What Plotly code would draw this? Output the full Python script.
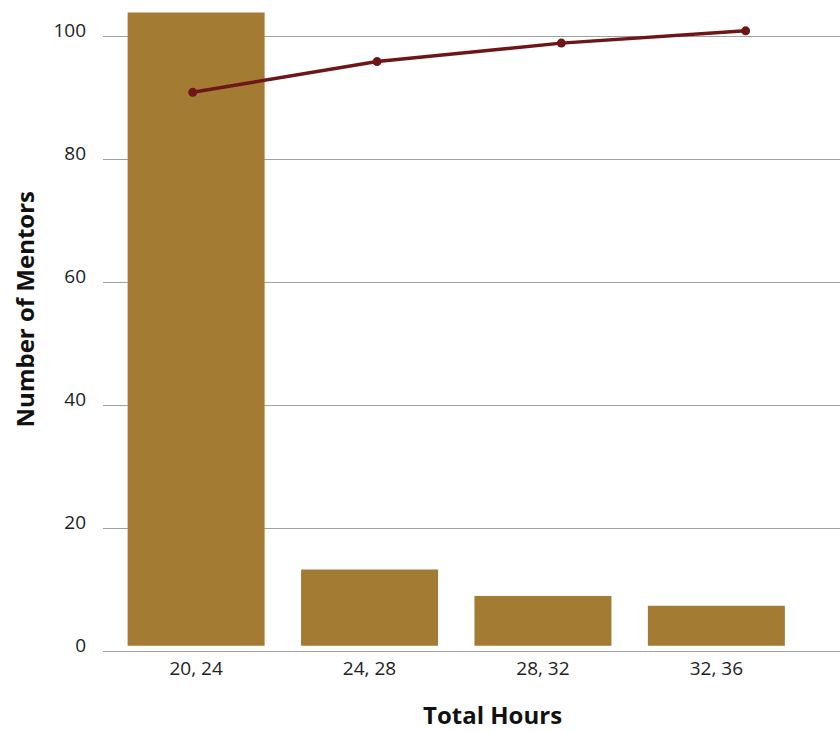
import plotly.graph_objects as go

# Hour bins (tick labels) and the data drawn on them
hour_bins = ["20, 24", "24, 28", "28, 32", "32, 36"]
mentor_counts = [103, 12.4, 8.1, 6.5]
cumulative_pct = [90, 95, 98, 100]
y_ticks = [0, 20, 40, 60, 80, 100]

BAR_COLOR = "#A47B33"
LINE_COLOR = "#6E1518"
GRID_COLOR = "#A0A0A0"
TICK_FONT = "Open Sans"
TITLE_FONT = "Open Sans"

fig = go.Figure()

fig.add_trace(go.Bar(
    x=hour_bins, y=mentor_counts,
    marker=dict(color=BAR_COLOR, line=dict(width=0)),
    xaxis="x", yaxis="y", showlegend=False,
))

fig.add_trace(go.Scatter(
    x=hour_bins, y=cumulative_pct,
    mode="lines+markers",
    line=dict(color=LINE_COLOR, width=3.5),
    marker=dict(color=LINE_COLOR, size=9),
    xaxis="x2", yaxis="y", showlegend=False,
))

y_range = [-0.86, 104.2]
grid_offset = -0.86

fig.update_layout(
    width=840, height=732,
    margin=dict(l=103, r=0, t=5, b=81),
    paper_bgcolor="white", plot_bgcolor="white",
    bargap=0.21,
    font=dict(family=TICK_FONT, size=19, color="#222222"),
    xaxis=dict(
        type="category", range=[-0.537, 3.713],
        showgrid=False, zeroline=False,
        showline=True, linecolor=GRID_COLOR, linewidth=1,
        ticks="", ticklabelstandoff=0,
        tickfont=dict(family=TICK_FONT, size=19, color="#222222"),
    ),
    xaxis2=dict(
        type="category", range=[-0.487, 3.512],
        overlaying="x", visible=False,
    ),
    yaxis=dict(
        range=y_range, tickvals=y_ticks,
        showgrid=False, zeroline=False, showline=False,
        ticks="", ticklabelstandoff=16,
        tickfont=dict(family=TICK_FONT, size=19, color="#222222"),
    ),
    yaxis2=dict(
        range=y_range, overlaying="y",
        tickvals=[v + grid_offset for v in y_ticks[1:]],
        showgrid=True, gridcolor=GRID_COLOR, gridwidth=1,
        showticklabels=False, zeroline=False, ticks="",
    ),
    annotations=[
        dict(text="<b>Total Hours</b>", xref="paper", yref="paper",
             x=0.528, y=-0.099, showarrow=False,
             font=dict(family=TITLE_FONT, size=24, color="#111111"),
             xanchor="center", yanchor="middle"),
        dict(text="<b>Number of Mentors</b>", xref="paper", yref="paper",
             x=-0.107, y=0.529, showarrow=False, textangle=-90,
             font=dict(family=TITLE_FONT, size=24, color="#111111"),
             xanchor="center", yanchor="middle"),
    ],
)

# Gridlines need an invisible trace on the overlay axis to be drawn
fig.add_trace(go.Scatter(x=[hour_bins[0]], y=[None], yaxis="y2", xaxis="x",
                         showlegend=False, hoverinfo="skip"))

fig.write_html("out.html")
